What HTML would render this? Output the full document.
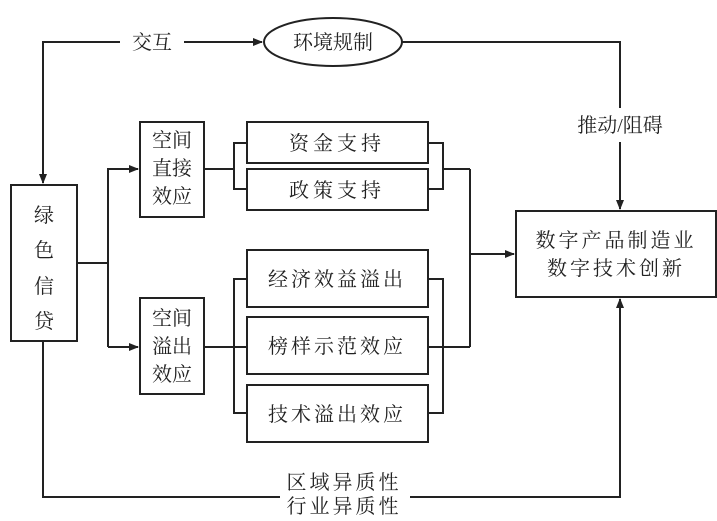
<!DOCTYPE html>
<html><head><meta charset="utf-8"><style>
html,body{margin:0;padding:0;background:#fff}
svg text{font-family:"Liberation Serif","Noto Serif CJK SC",serif;font-size:20px;fill:#222}
</style></head><body>
<svg width="717" height="516" viewBox="0 0 717 516" xmlns="http://www.w3.org/2000/svg">
<defs><marker id="a" markerWidth="10" markerHeight="8" refX="9" refY="4" orient="auto" markerUnits="userSpaceOnUse"><path d="M0,0 L10,4 L0,8 z" fill="#222"/></marker></defs>
<g stroke="#222" stroke-width="2" fill="none">
<!-- top -->
<polyline points="120,42 43,42 43,183" marker-end="url(#a)"/>
<line x1="184" y1="42" x2="262" y2="42" marker-end="url(#a)"/>
<ellipse cx="333" cy="42" rx="69" ry="24"/>
<polyline points="402,42 620,42 620,108"/>
<line x1="620" y1="142" x2="620" y2="209" marker-end="url(#a)"/>
<!-- green box -->
<rect x="11" y="185" width="66" height="156"/>
<polyline points="77,263 108,263"/>
<polyline points="108,347 108,169 138,169" marker-end="url(#a)"/>
<line x1="108" y1="347" x2="138" y2="347" marker-end="url(#a)"/>
<rect x="140" y="122" width="64" height="95"/>
<rect x="140" y="298" width="64" height="96"/>
<!-- sub boxes -->
<rect x="247" y="122" width="181" height="41"/>
<rect x="247" y="169" width="181" height="41"/>
<rect x="247" y="250" width="181" height="57"/>
<rect x="247" y="317" width="181" height="57"/>
<rect x="247" y="385" width="181" height="57"/>
<!-- brackets -->
<line x1="204" y1="169" x2="234" y2="169"/>
<polyline points="247,143 234,143 234,189 247,189"/>
<polyline points="428,143 443,143 443,189 428,189"/>
<line x1="443" y1="169" x2="470" y2="169"/>
<line x1="204" y1="347" x2="247" y2="347"/>
<polyline points="247,279 234,279 234,413 247,413"/>
<polyline points="428,279 443,279 443,413 428,413"/>
<line x1="428" y1="347" x2="470" y2="347"/>
<line x1="470" y1="169" x2="470" y2="347"/>
<line x1="470" y1="254" x2="514" y2="254" marker-end="url(#a)"/>
<rect x="516" y="211" width="200" height="86"/>
<!-- bottom -->
<polyline points="43,341 43,497 280,497"/>
<polyline points="410,497 620,497 620,299" marker-end="url(#a)"/>
</g>
<text x="152" y="49" text-anchor="middle">交互</text>
<text x="333" y="49" text-anchor="middle">环境规制</text>
<text x="620" y="132" text-anchor="middle">推动/阻碍</text>
<text x="44" y="222" text-anchor="middle">绿</text>
<text x="44" y="257" text-anchor="middle">色</text>
<text x="44" y="293" text-anchor="middle">信</text>
<text x="44" y="328" text-anchor="middle">贷</text>
<text x="172" y="147" text-anchor="middle">空间</text>
<text x="172" y="175" text-anchor="middle">直接</text>
<text x="172" y="203" text-anchor="middle">效应</text>
<text x="172" y="325" text-anchor="middle">空间</text>
<text x="172" y="353" text-anchor="middle">溢出</text>
<text x="172" y="381" text-anchor="middle">效应</text>
<text x="337" y="150" text-anchor="middle" letter-spacing="4">资金支持</text>
<text x="337" y="197" text-anchor="middle" letter-spacing="4">政策支持</text>
<text x="337" y="286" text-anchor="middle" letter-spacing="3">经济效益溢出</text>
<text x="337" y="353" text-anchor="middle" letter-spacing="3">榜样示范效应</text>
<text x="337" y="421" text-anchor="middle" letter-spacing="3">技术溢出效应</text>
<text x="616" y="247" text-anchor="middle" letter-spacing="3">数字产品制造业</text>
<text x="616" y="275" text-anchor="middle" letter-spacing="3">数字技术创新</text>
<text x="344" y="489" text-anchor="middle" letter-spacing="3">区域异质性</text>
<text x="344" y="513" text-anchor="middle" letter-spacing="3">行业异质性</text>
</svg>
</body></html>
